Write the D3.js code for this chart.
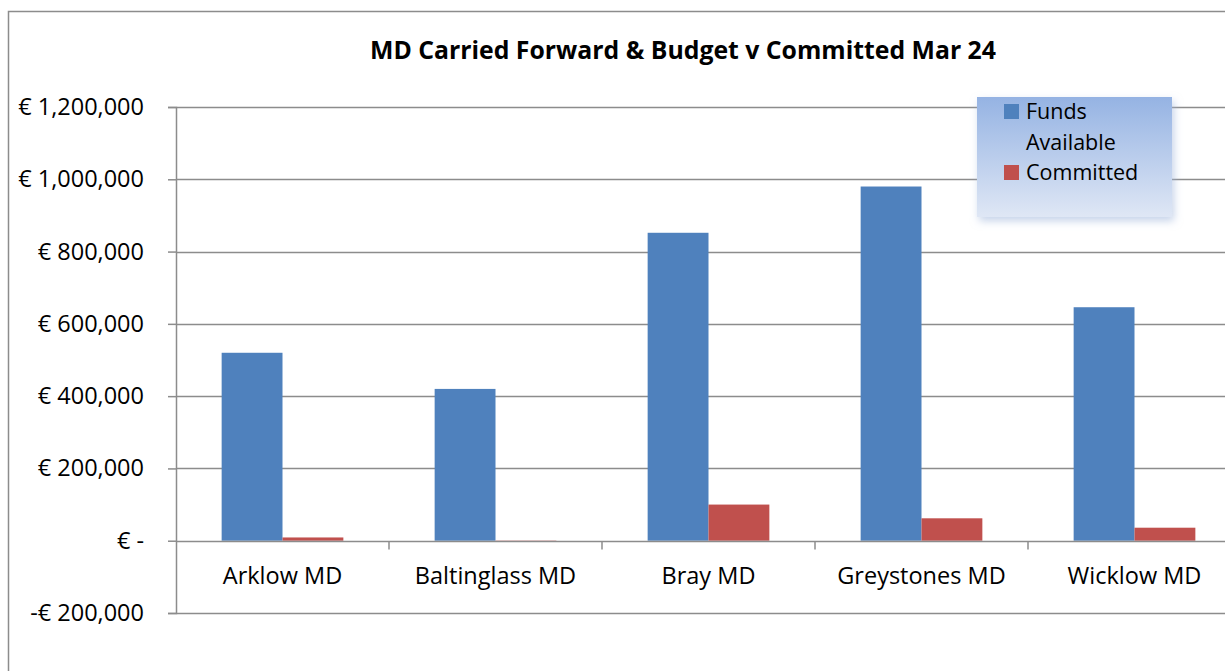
<!DOCTYPE html>
<html>
<head>
<meta charset="utf-8">
<script src="https://cdn.jsdelivr.net/npm/d3@7"></script>
<style>
  body { margin: 0; background: #fff; }
  svg { display: block; font-family: "Open Sans", sans-serif; }
</style>
</head>
<body>
<div id="chart"></div>
<script>
// chart data
const categories = ["Arklow MD", "Baltinglass MD", "Bray MD", "Greystones MD", "Wicklow MD"];
const fundsAvailable = [520000, 420000, 852000, 980000, 646000];
const committed = [9000, -2000, 100000, 62000, 36000];
const seriesNames = ["Funds Available", "Committed"];
const yTicks = [-200000, 0, 200000, 400000, 600000, 800000, 1000000, 1200000];
const title = "MD Carried Forward & Budget v Committed Mar 24";

const W = 1225, H = 671;
const margin = {left: 176, top: 107, right: 1241, bottom: 613};
const blue = "#4f81bd", red = "#c0504d", grid = "#8c8c8c";
const FONT = "\"Open Sans\", sans-serif";
const FS = 23.5;

const svg = d3.select("#chart").append("svg")
    .attr("width", W).attr("height", H);

// outer chart border (runs off the bottom/right of the capture)
svg.append("path")
    .attr("d", "M8.5," + (H + 5) + "V11.5H" + (W + 5))
    .attr("fill", "none").attr("stroke", grid).attr("stroke-width", 1.5);

svg.append("text")
    .attr("x", 683).attr("y", 59)
    .attr("text-anchor", "middle")
    .attr("font-weight", "bold").attr("font-size", 24.8)
    .attr("fill", "#000")
    .text(title);

const y = d3.scaleLinear()
    .domain([-200000, 1200000])
    .range([margin.bottom, margin.top]);

const x0 = d3.scaleBand()
    .domain(categories)
    .range([margin.left, margin.right])
    .paddingInner(0).paddingOuter(0);

// Excel gap width 150% -> bars take 2/3.5 of the category
const x1 = d3.scaleBand()
    .domain(seriesNames)
    .range([0, x0.bandwidth()])
    .paddingOuter(0.75).paddingInner(0);

function euro(v) {
    if (v === 0) return "€ -";
    const s = d3.format(",")(Math.abs(v));
    return (v < 0 ? "-€ " : "€ ") + s;
}

// gridlines
svg.append("g")
    .selectAll("line")
    .data(yTicks.filter(d => d !== 0))
    .enter().append("line")
    .attr("x1", margin.left).attr("x2", margin.right)
    .attr("y1", d => Math.round(y(d)) + 0.5)
    .attr("y2", d => Math.round(y(d)) + 0.5)
    .attr("stroke", grid).attr("stroke-width", 1.5);

// y axis
const yAxis = svg.append("g")
    .attr("transform", "translate(" + margin.left + ",0)")
    .call(d3.axisLeft(y).tickValues(yTicks).tickFormat(euro).tickSize(8).tickPadding(24));
yAxis.select(".domain").attr("stroke", grid).attr("stroke-width", 1.5);
yAxis.selectAll(".tick line").attr("stroke", grid).attr("stroke-width", 1.5);
yAxis.selectAll(".tick text")
    .attr("font-size", FS).attr("fill", "#000")
    .attr("font-family", FONT);

const series = [fundsAvailable, committed];
const colors = [blue, red];

const groups = svg.append("g")
    .selectAll("g")
    .data(series)
    .enter().append("g")
    .attr("fill", (d, i) => colors[i]);

groups.selectAll("rect")
    .data((d, i) => d.map((v, j) => ({v: v, cat: categories[j], s: seriesNames[i]})))
    .enter().append("rect")
    .attr("x", d => x0(d.cat) + x1(d.s))
    .attr("width", x1.bandwidth())
    .attr("y", d => y(Math.max(0, d.v)))
    .attr("height", d => Math.abs(y(d.v) - y(0)));

// category axis at zero
const xAxis = svg.append("g")
    .attr("transform", "translate(0," + (Math.round(y(0)) + 0.5) + ")");
xAxis.append("line")
    .attr("x1", margin.left).attr("x2", margin.right)
    .attr("stroke", grid).attr("stroke-width", 1.5);
xAxis.selectAll("line.tk")
    .data(categories.slice(1))
    .enter().append("line")
    .attr("class", "tk")
    .attr("x1", d => x0(d)).attr("x2", d => x0(d))
    .attr("y1", 0).attr("y2", 8)
    .attr("stroke", grid).attr("stroke-width", 1.5);
xAxis.selectAll("text")
    .data(categories)
    .enter().append("text")
    .attr("x", d => x0(d) + x0.bandwidth() / 2)
    .attr("y", 42)
    .attr("text-anchor", "middle")
    .attr("font-size", FS).attr("fill", "#000")
    .text(d => d);

// legend
const defs = svg.append("defs");
const grad = defs.append("linearGradient")
    .attr("id", "legGrad").attr("x1", 0).attr("y1", 0).attr("x2", 0).attr("y2", 1);
grad.append("stop").attr("offset", "0%").attr("stop-color", "#95b3e3");
grad.append("stop").attr("offset", "100%").attr("stop-color", "#dfe7f5");
defs.append("filter").attr("id", "legShadow")
    .attr("x", "-10%").attr("y", "-10%").attr("width", "130%").attr("height", "140%")
    .append("feDropShadow")
    .attr("dx", 2).attr("dy", 4).attr("stdDeviation", 4)
    .attr("flood-color", "#9fb6dc").attr("flood-opacity", 0.6);

const leg = svg.append("g").attr("transform", "translate(977,97)");
leg.append("rect")
    .attr("width", 195).attr("height", 120)
    .attr("fill", "url(#legGrad)")
    .attr("filter", "url(#legShadow)");

// "Funds Available" wraps onto two lines like the original
const legRows = [
    {lines: ["Funds", "Available"], color: blue, y: 22},
    {lines: ["Committed"], color: red, y: 83}
];
legRows.forEach(r => {
    leg.append("rect")
        .attr("x", 27).attr("y", r.y - 15)
        .attr("width", 15).attr("height", 15)
        .attr("fill", r.color);
    r.lines.forEach((t, k) => {
        leg.append("text")
            .attr("x", 49).attr("y", r.y + k * 31)
            .attr("font-size", 21.5).attr("fill", "#000")
            .text(t);
    });
});
</script>
</body>
</html>
